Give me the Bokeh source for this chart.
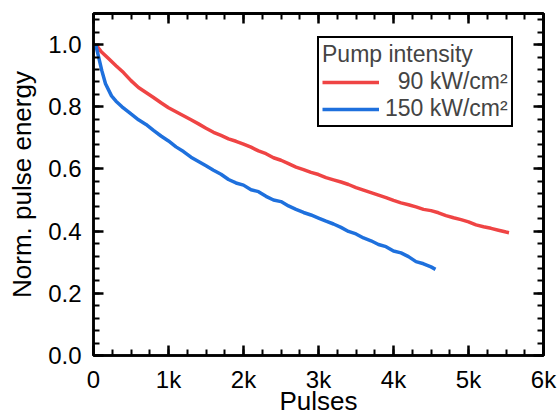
from bokeh.plotting import figure
from bokeh.models import Range1d, LinearAxis, FixedTicker, Legend, LegendItem
from bokeh.embed import file_html
from bokeh.resources import INLINE

# ---- data ----
red_x = [30, 100, 200, 300, 400, 500, 600, 700, 800, 900, 1000, 1100, 1200,
         1300, 1400, 1500, 1600, 1700, 1800, 1900, 2000, 2100, 2200, 2300, 2400, 2500,
         2600, 2700, 2800, 2900, 3000, 3100, 3200, 3300, 3400, 3500, 3600, 3700, 3800,
         3900, 4000, 4100, 4200, 4300, 4400, 4500, 4600, 4700, 4800, 4900, 5000, 5100,
         5200, 5300, 5400, 5500, 5540]
red_y = [1.0, 0.978, 0.955, 0.932, 0.910, 0.884, 0.862, 0.846, 0.830, 0.813,
         0.797, 0.784, 0.771, 0.758, 0.745, 0.731, 0.718, 0.708, 0.697, 0.689,
         0.680, 0.670, 0.658, 0.649, 0.636, 0.628, 0.617, 0.606, 0.598, 0.589, 0.582,
         0.572, 0.565, 0.558, 0.550, 0.540, 0.532, 0.524, 0.516, 0.508, 0.499, 0.491,
         0.485, 0.478, 0.470, 0.466, 0.459, 0.450, 0.443, 0.437, 0.430, 0.420, 0.414,
         0.409, 0.403, 0.397, 0.395]

blue_x = [30, 70, 110, 160, 240, 300, 380, 500, 600, 700, 800, 900, 1000,
          1100, 1200, 1300, 1400, 1500, 1600, 1700, 1800, 1900, 2000, 2100, 2200, 2300,
          2400, 2500, 2600, 2700, 2800, 2900, 3000, 3100, 3200, 3300, 3400, 3500, 3600,
          3700, 3800, 3900, 4000, 4100, 4200, 4300, 4400, 4500, 4560]
blue_y = [1.0, 0.958, 0.917, 0.874, 0.835, 0.818, 0.800, 0.777, 0.758, 0.743,
          0.724, 0.706, 0.690, 0.671, 0.656, 0.638, 0.624, 0.610, 0.596,
          0.583, 0.566, 0.555, 0.548, 0.533, 0.527, 0.512, 0.500, 0.495, 0.481, 0.470,
          0.460, 0.452, 0.442, 0.432, 0.423, 0.412, 0.399, 0.391, 0.378, 0.369, 0.357,
          0.350, 0.336, 0.330, 0.318, 0.302, 0.295, 0.285, 0.277]

series_labels = ["\u200790 kW/cm\u00b2", "150 kW/cm\u00b2"]
legend_title = "Pump intensity"

x_ticks = [0, 1000, 2000, 3000, 4000, 5000, 6000]
x_tick_labels = ["0", "1k", "2k", "3k", "4k", "5k", "6k"]
x_minor = [i * 250 for i in range(25)]
y_ticks = [0.0, 0.2, 0.4, 0.6, 0.8, 1.0]
y_tick_labels = ["0.0", "0.2", "0.4", "0.6", "0.8", "1.0"]
y_minor = [round(i * 0.04, 2) for i in range(28)]

FONT = "Liberation Sans"
RED = "#ef4444"
BLUE = "#1e70dd"

p = figure(width=557, height=418, output_backend="svg", toolbar_location=None,
           x_range=Range1d(0, 6000), y_range=Range1d(0, 1.1),
           min_border_left=93, min_border_right=14, min_border_top=13, min_border_bottom=61)
p.xgrid.visible = False
p.ygrid.visible = False
p.outline_line_color = "black"
p.outline_line_width = 2.5
p.background_fill_color = "white"
p.border_fill_color = "white"

r1 = p.line(red_x, red_y, line_color=RED, line_width=3.5)
r2 = p.line(blue_x, blue_y, line_color=BLUE, line_width=3.5)


def base_style(ax):
    ax.axis_line_width = 2.5
    ax.axis_line_color = "black"
    ax.major_tick_in = 10
    ax.major_tick_out = 0
    ax.minor_tick_in = 6
    ax.minor_tick_out = 0
    ax.major_tick_line_width = 2.5
    ax.minor_tick_line_width = 2
    ax.major_tick_line_color = "black"
    ax.minor_tick_line_color = "black"
    ax.major_label_text_font = FONT
    ax.major_label_text_font_size = "24px"
    ax.major_label_text_color = "black"
    ax.axis_label_text_font = FONT
    ax.axis_label_text_font_size = "26px"
    ax.axis_label_text_font_style = "normal"
    ax.axis_label_text_color = "black"


xa = p.xaxis[0]
xa.ticker = FixedTicker(ticks=x_ticks, minor_ticks=x_minor)
xa.major_label_overrides = {t: l for t, l in zip(x_ticks, x_tick_labels)}
xa.axis_label = "Pulses"
base_style(xa)
xa.major_label_standoff = 10
xa.axis_label_standoff = -10

ya = p.yaxis[0]
ya.ticker = FixedTicker(ticks=y_ticks, minor_ticks=y_minor)
ya.major_label_overrides = {t: l for t, l in zip(y_ticks, y_tick_labels)}
ya.axis_label = "Norm. pulse energy"
base_style(ya)
ya.major_label_standoff = 12
ya.axis_label_standoff = 8


def mirror_axes(major, minor, side):
    # tick-only axes: long marks at the major positions, short ones at the minor positions
    for pos, length, width in ((major, 10, 2.5), (minor, 6, 2)):
        ax = LinearAxis(ticker=FixedTicker(ticks=[], minor_ticks=pos))
        ax.axis_line_width = 2.5
        ax.axis_line_color = "black"
        ax.major_tick_in = 0
        ax.major_tick_out = 0
        ax.minor_tick_in = length
        ax.minor_tick_out = 0
        ax.minor_tick_line_width = width
        ax.minor_tick_line_color = "black"
        ax.major_label_standoff = 0
        ax.axis_label_standoff = 0
        p.add_layout(ax, side)


mirror_axes(x_ticks, x_minor, "above")
mirror_axes(y_ticks, y_minor, "right")

legend = Legend(items=[LegendItem(label=series_labels[0], renderers=[r1]),
                       LegendItem(label=series_labels[1], renderers=[r2])],
                title=legend_title, location=(224, 228))
legend.title_text_font = FONT
legend.title_text_font_size = "23px"
legend.title_text_font_style = "normal"
legend.title_standoff = 0
legend.label_text_font = FONT
legend.label_text_font_size = "23px"
legend.glyph_width = 57
legend.glyph_height = 26
legend.label_height = 26
legend.label_standoff = 6
legend.spacing = 0
legend.padding = 3
legend.margin = 0
legend.border_line_color = "black"
legend.border_line_alpha = 1
legend.border_line_width = 2
legend.background_fill_alpha = 1
p.add_layout(legend)

open("out.html", "w").write(file_html(p, INLINE))
